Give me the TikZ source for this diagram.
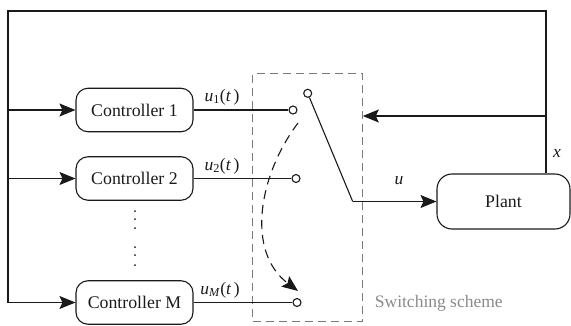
\documentclass[tikz,border=0pt]{standalone}
\usepackage{fontspec}
\setmainfont{Liberation Serif}
\usetikzlibrary{arrows.meta}
\definecolor{ln}{HTML}{1A1A1A}
\definecolor{dg}{HTML}{7A7A7A}
\definecolor{tg}{HTML}{8A8A8A}
\begin{document}
\begin{tikzpicture}[x=1pt,y=1pt, line width=1.1pt, color=ln,
  ctrl/.style={draw, rounded corners=12pt, minimum width=117pt, minimum height=43.5pt, inner sep=0pt, font=\fontsize{17.8}{20}\selectfont},
  arr/.style={-{Stealth[length=16pt,width=13pt,inset=3pt]}},
  swc/.style={circle, draw, fill=white, inner sep=0pt, minimum size=8pt},
  lab/.style={font=\fontsize{17.5}{20}\selectfont},
  dotc/.style={fill=ln}]
\useasboundingbox (0,0) rectangle (571,325);
% controllers and plant
\node[ctrl] (c1) at (134.5,215) {Controller 1};
\node[ctrl] (c2) at (134.5,146.5) {Controller 2};
\node[ctrl] (cm) at (134.5,22.5) {Controller M};
\node[ctrl, rounded corners=15pt, minimum width=133pt, minimum height=55pt] (plant) at (503.5,123.5) {Plant};
% switching box
\node[draw=dg, line width=1pt, dash pattern=on 8pt off 5pt, minimum width=109.6pt, minimum height=247.7pt, inner sep=0pt] (box) at (307.5,127.2) {};
\node[anchor=west, text=tg, font=\fontsize{17.5}{20}\selectfont] (swl) at (371,22) {Switching scheme};
% switch contacts
\node[swc] (s1) at (293,215) {};
\node[swc] (s2) at (296,146.5) {};
\node[swc] (sm) at (297,22.5) {};
\node[swc] (pv) at (307.7,231.7) {};
% coordinates
\coordinate (bt) at (8,314);
\coordinate (rt) at (546,314);
\coordinate (b1) at (8,215);
\coordinate (b2) at (8,146.5);
\coordinate (bm) at (8,22.5);
\coordinate (k) at (352.7,123.5);
\coordinate (fb) at (546,209);
\coordinate (as) at (298,202);
\coordinate (ae) at (298,34);
% feedback loop
\draw (bm) -- (bt) -- (rt) -- (rt |- plant.north);
\draw[arr] (b1) -- (c1);
\draw[arr] (b2) -- (c2);
\draw[arr] (bm) -- (cm);
\draw[arr] (fb) -- (fb -| box.east);
% controller outputs
\draw (c1) -- (s1);
\draw (c2.east |- s2) -- (s2);
\draw (cm) -- (sm);
% switch
\draw (pv) -- (k);
\draw[arr] (k) -- (plant);
\draw[arr, dash pattern=on 9pt off 6pt] (as) to[out=233,in=143] (ae);
% vertical dots
\foreach \yy in {114,106,97,78,70,60} \fill[dotc] (135,\yy) circle (1pt);
% labels
\node[lab] (l1) at (222,228) {\textit{u}\textsubscript{1}(\textit{t\,})};
\node[lab] (l2) at (222,159) {\textit{u}\textsubscript{2}(\textit{t\,})};
\node[lab] (lm) at (220,35) {\textit{u}\textsubscript{\textit{M}}(\textit{t\,})};
\node[lab] (lu) at (399,144) {\textit{u}};
\node[lab] (lx) at (557,172) {\textit{x}};
\end{tikzpicture}
\end{document}
